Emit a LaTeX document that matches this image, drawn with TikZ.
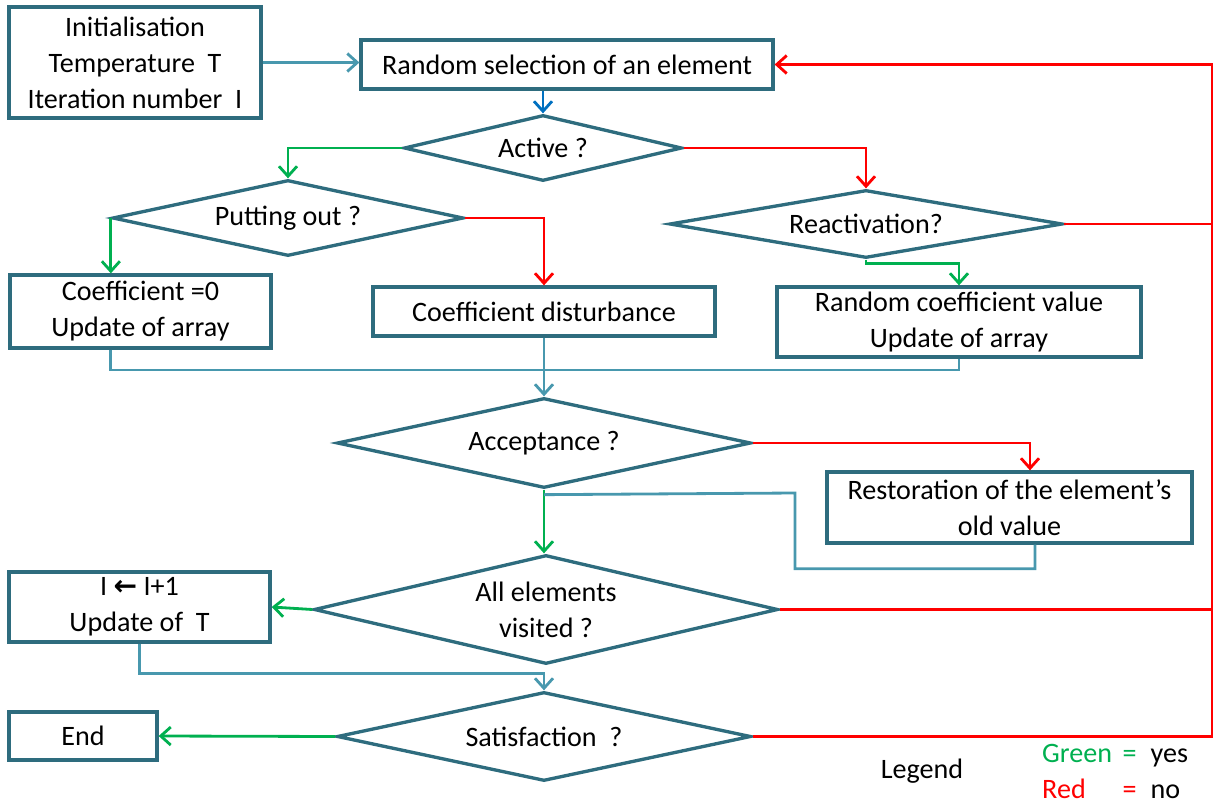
\documentclass[tikz,border=0pt]{standalone}
\usepackage{fontspec}
\setmainfont{Carlito}
\newfontfamily\arrowglyph{DejaVu Sans}
\usetikzlibrary{arrows.meta, shapes.geometric, calc}
\definecolor{boxteal}{RGB}{46,108,126}
\definecolor{linkteal}{RGB}{72,152,174}
\definecolor{yesgreen}{RGB}{0,176,80}
\definecolor{nored}{RGB}{255,0,0}
\definecolor{stepblue}{RGB}{0,112,192}
\tikzset{
  box/.style={draw=boxteal, line width=1.9pt, rectangle, align=center, inner sep=0pt},
  decision/.style={draw=boxteal, line width=1.9pt, diamond, aspect=4, align=center, inner sep=0pt},
  linkline/.style={draw=linkteal, line width=1.6pt},
  yesline/.style={draw=yesgreen, line width=1.6pt},
  noline/.style={draw=nored, line width=1.6pt},
}

\begin{document}
\begin{tikzpicture}[x=0.02cm, y=-0.02cm, font=\fontsize{16}{20.5}\selectfont,
  >={Straight Barb[length=2mm,width=3.6mm]}]
\useasboundingbox (0,0) rectangle (1215,805);
% boxes and decisions
\node[box, minimum width=5.04cm, minimum height=2.22cm] (init) at (135,62.5) {Initialisation\\Temperature~~T\\Iteration number~~I};
\node[box, minimum width=8.24cm, minimum height=0.98cm] (sel) at (567,64.5) {Random selection of an element};
\node[decision, minimum width=5.56cm, minimum height=1.32cm] (active) at (543,148) {Active ?};
\node[decision, minimum width=7.02cm, minimum height=1.52cm] (putout) at (288,218) {Putting out ?};
\node[decision, minimum width=7.86cm, minimum height=1.36cm] (react) at (866,224) {Reactivation?};
\node[box, minimum width=5.22cm, minimum height=1.46cm] (coefzero) at (140.5,311.5) {Coefficient =0\\Update of array};
\node[box, minimum width=6.84cm, minimum height=0.98cm] (disturb) at (544,311.5) {Coefficient disturbance};
\node[box, minimum width=7.28cm, minimum height=1.40cm] (randcoef) at (959,322) {Random coefficient value\\Update of array};
\node[decision, minimum width=8.28cm, minimum height=1.80cm] (accept) at (544,443) {Acceptance ?};
\node[box, minimum width=7.30cm, minimum height=1.42cm] (restore) at (1009.5,507.5) {Restoration of the element’s\\old value};
\node[decision, minimum width=9.28cm, minimum height=2.18cm] (visited) at (546,609.5) {All elements\\visited ?};
\node[box, minimum width=5.22cm, minimum height=1.40cm] (incr) at (139.5,607) {I {\arrowglyph\bfseries ←} I+1\\Update of~~T};
\node[decision, minimum width=8.28cm, minimum height=1.78cm] (satisf) at (544,736.5) {Satisfaction~~?};
\node[box, minimum width=2.96cm, minimum height=0.96cm] (endbox) at (83,736) {End};
% legend
\node (legend) at (922,771) {Legend};
\node[anchor=west] (key) at (1036,773) {\begin{tabular}{@{}l@{\hspace{6pt}}c@{\hspace{8pt}}l@{}}
  \textcolor{yesgreen}{Green} & \textcolor{yesgreen}{=} & yes\\
  \textcolor{nored}{Red} & \textcolor{nored}{=} & no
\end{tabular}};
\coordinate (rail) at (1212,63);
\coordinate (merge) at (544,370);
\coordinate (rejoin) at ($(accept.south)+(0,5)$);
% connectors
\draw[linkline,->] (init.east) -- (init.east -| sel.west);
\draw[draw=stepblue, line width=1.6pt, ->] (active.north |- sel.south) -- (active.north);
\draw[yesline,->] (active.west) -| (putout.north);
\draw[noline,->] (active.east) -| (react.north);
\draw[yesline,->] (putout.west) -- (putout.west |- coefzero.north);
\draw[noline,->] (putout.east) -| (disturb.north);
\draw[yesline,->] (react.south) -- ++(0,4) -| (randcoef.north);
\draw[noline] (react.east) -- (react.east -| rail);
\draw[linkline] (coefzero.south -| putout.west) |- (merge) -| (randcoef.south);
\draw[linkline,->] (disturb.south) -- (accept.north);
\draw[noline,->] (accept.east) -| ([xshift=0.41cm]restore.north);
\draw[yesline,->] (accept.south) -- (accept.south |- visited.north);
\draw[linkline] ([xshift=0.51cm]restore.south) -- ++(0,24) -| (795,493) -- (rejoin);
\draw[yesline,->] (visited.west) -- (incr.east);
\draw[noline] (visited.east) -- (visited.east -| rail);
\draw[linkline,->] (incr.south) -- ++(0,30) -| (satisf.north);
\draw[yesline,->] (satisf.west) -- (endbox.east);
\draw[noline,->] (satisf.east) -| (rail |- sel.east) -- (sel.east);
\end{tikzpicture}
\end{document}
